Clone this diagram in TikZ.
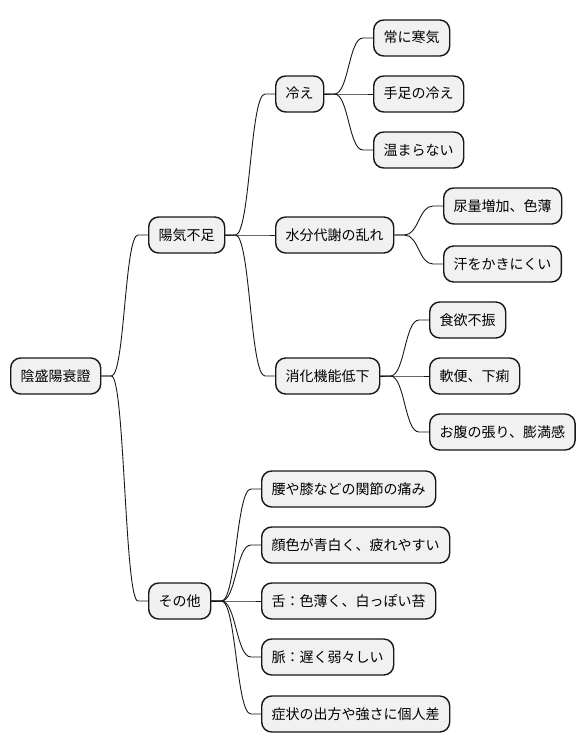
\documentclass[tikz,border=0pt]{standalone}
\usepackage{fontspec}
\setmainfont{Noto Sans CJK JP}
\usetikzlibrary{calc}
\definecolor{boxfill}{HTML}{F1F1F1}
\definecolor{boxline}{HTML}{181818}
\tikzset{
  mmnode/.style={draw=boxline, fill=boxfill, line width=1.4pt, rounded corners=10pt,
    anchor=west, inner xsep=10pt, inner ysep=0pt, minimum height=36pt,
    text height=12pt, text depth=2pt, font=\fontsize{14pt}{16pt}\selectfont},
  link/.style={draw=boxline, line width=0.9pt}
}
\newcommand\mmlink[2]{%
  \draw[link] let \p1=(#1.east), \p2=(#2.west) in
    (\p1) -- ({\x1+10pt},\y1) .. controls ({(\x1+\x2)/2},\y1) and ({(\x1+\x2)/2},\y2) .. ({\x2-10pt},\y2) -- (\p2);}
\begin{document}
\begin{tikzpicture}[x=1pt,y=-1pt]
\useasboundingbox (0,0) rectangle (586,752);
\node[mmnode] (root) at (10,376) {陰盛陽衰證};
\node[mmnode] (A) at (148,235) {陽気不足};
\node[mmnode] (B) at (148,601) {その他};
\node[mmnode] (A1) at (275,94) {冷え};
\node[mmnode] (A2) at (275,235) {水分代謝の乱れ};
\node[mmnode] (A3) at (275,376) {消化機能低下};
\node[mmnode] (A1a) at (373,38) {常に寒気};
\node[mmnode] (A1b) at (373,94) {手足の冷え};
\node[mmnode] (A1c) at (373,150) {温まらない};
\node[mmnode] (A2a) at (443,206) {尿量増加、色薄};
\node[mmnode] (A2b) at (443,264) {汗をかきにくい};
\node[mmnode] (A3a) at (429,320) {食欲不振};
\node[mmnode] (A3b) at (429,376) {軟便、下痢};
\node[mmnode] (A3c) at (429,432) {お腹の張り、膨満感};
\node[mmnode] (B1) at (261,489) {腰や膝などの関節の痛み};
\node[mmnode] (B2) at (261,545) {顔色が青白く、疲れやすい};
\node[mmnode] (B3) at (261,601) {舌：色薄く、白っぽい苔};
\node[mmnode] (B4) at (261,657) {脈：遅く弱々しい};
\node[mmnode] (B5) at (261,714) {症状の出方や強さに個人差};
\mmlink{root}{A}
\mmlink{root}{B}
\mmlink{A}{A1}
\mmlink{A}{A2}
\mmlink{A}{A3}
\mmlink{A1}{A1a}
\mmlink{A1}{A1b}
\mmlink{A1}{A1c}
\mmlink{A2}{A2a}
\mmlink{A2}{A2b}
\mmlink{A3}{A3a}
\mmlink{A3}{A3b}
\mmlink{A3}{A3c}
\mmlink{B}{B1}
\mmlink{B}{B2}
\mmlink{B}{B3}
\mmlink{B}{B4}
\mmlink{B}{B5}
\end{tikzpicture}
\end{document}
